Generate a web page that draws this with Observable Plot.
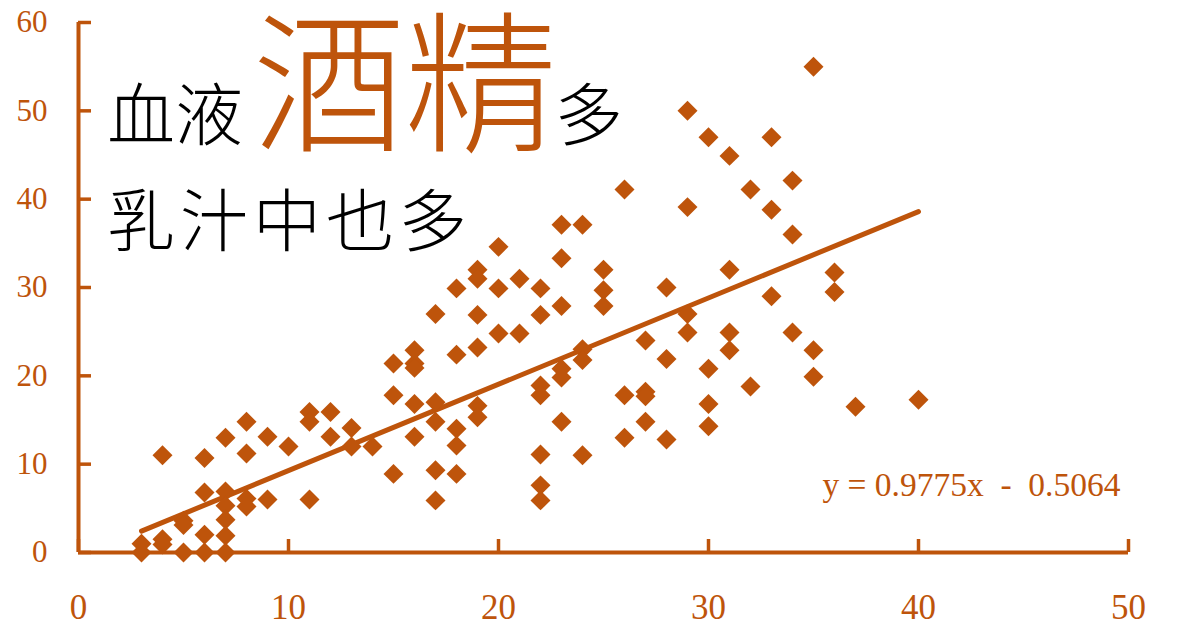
<!DOCTYPE html>
<html>
<head>
<meta charset="utf-8">
<script src="https://cdn.jsdelivr.net/npm/d3@7"></script>
<script src="https://cdn.jsdelivr.net/npm/@observablehq/plot@0.6"></script>
<style>
  html, body { margin: 0; padding: 0; background: #fff; }
  #chart svg { display: block; }
</style>
</head>
<body>
<div id="chart"></div>
<script>
// ---- data (x = blood alcohol, y = milk alcohol) ----
const xVals = [
  3,3,
  4,4,4,
  5,5,5,
  6,6,6,6,
  7,7,7,7,7,7,
  8,8,8,8,
  9,9,
  10,
  11,11,11,
  12,12,
  13,13,
  14,
  15,15,15,
  16,16,16,16,16,
  17,17,17,17,17,
  18,18,18,18,18,
  19,19,19,19,19,19,
  20,20,20,
  21,21,
  22,22,22,22,22,22,22,
  23,23,23,23,23,23,
  24,24,24,24,
  25,25,25,
  26,26,26,
  27,27,27,27,
  28,28,28,
  29,29,29,29,
  30,30,30,30,
  31,31,31,31,
  32,32,
  33,33,33,
  34,34,34,
  35,35,35,
  36,36,
  37,
  40
];
const yVals = [
  1.0,0.0,
  11.0,1.5,0.9,
  3.6,3.1,0.0,
  10.7,6.8,2.0,0.0,
  13.0,6.9,5.3,3.7,1.9,0.0,
  14.8,11.2,6.1,5.2,
  13.1,6.0,
  12.0,
  15.9,14.8,6.0,
  15.9,13.1,
  14.1,12.0,
  12.0,
  21.4,17.8,8.9,
  22.9,21.4,20.9,16.8,13.1,
  27.0,17.0,14.8,9.3,5.9,
  29.9,22.4,14.0,12.1,8.9,
  32.0,31.0,26.9,23.2,16.6,15.3,
  34.6,29.9,24.8,
  31.0,24.8,
  29.9,26.9,18.9,17.8,11.1,7.6,5.9,
  37.1,33.3,27.9,20.8,19.8,14.8,
  37.1,23.0,21.8,11.0,
  32.0,29.7,27.9,
  41.1,17.8,13.0,
  24.0,18.2,17.7,14.8,
  30.0,21.9,12.8,
  50.0,39.1,27.0,24.9,
  47.0,20.8,16.8,14.3,
  44.9,32.0,24.9,22.9,
  41.1,18.8,
  47.0,38.8,29.0,
  42.1,36.0,24.9,
  55.0,22.9,19.9,
  31.7,29.5,
  16.5,
  17.3
];
const xTicks = [0, 10, 20, 30, 40, 50];
const yTicks = [0, 10, 20, 30, 40, 50, 60];
// trend line as labelled in the chart
const trendSlope = 0.9775;
const trendIntercept = -0.5064;
const trendRange = [3, 40];
const trendLabel = "y = 0.9775x  -  0.5064";
const titleLine1 = ["血液", "酒精", "多"];
const titleLine2 = "乳汁中也多";

const ORANGE = "#BE540B";

const points = xVals.map((x, i) => ({x, y: yVals[i]}));
const trend = trendRange.map(x => ({x, y: trendSlope * x + trendIntercept}));

const chart = Plot.plot({
  width: 1200,
  height: 628,
  marginLeft: 78,
  marginRight: 72,
  marginTop: 22,
  marginBottom: 76,
  x: {domain: [0, 50], label: null},
  y: {domain: [0, 60], label: null},
  style: {background: "white", fontFamily: "'Liberation Serif', 'Times New Roman', serif"},
  marks: [
    Plot.ruleX([0], {stroke: ORANGE, strokeWidth: 4}),
    Plot.ruleY([0], {stroke: ORANGE, strokeWidth: 4}),
    Plot.axisX(xTicks, {tickSize: -13, tickPadding: 55, stroke: ORANGE, fill: ORANGE, strokeWidth: 3.5, fontSize: 35, label: null}),
    Plot.axisY(yTicks, {tickSize: -13, tickPadding: 44, stroke: ORANGE, fill: ORANGE, strokeWidth: 3.5, fontSize: 31, label: null}),
    Plot.line(trend, {x: "x", y: "y", stroke: ORANGE, strokeWidth: 5, strokeLinecap: "round"}),
    Plot.dot(points, {x: "x", y: "y", symbol: "diamond2", r: 9, fill: ORANGE, stroke: "none"}),
    Plot.text([trendLabel], {frameAnchor: "bottom-right", dx: -8, dy: -57, text: d => d, fill: ORANGE, fontSize: 33.5, textAnchor: "end", lineAnchor: "bottom", fontFamily: "'Liberation Serif', serif"})
  ]
});

document.getElementById("chart").appendChild(chart);

const svg = d3.select(chart);
const cjk = "'Noto Sans CJK TC', 'Noto Sans CJK SC', sans-serif";
const t1 = svg.append("text")
  .attr("x", 107).attr("y", 140)
  .attr("text-anchor", "start")
  .attr("font-family", cjk).attr("font-weight", 300);
t1.append("tspan").attr("font-size", 68).attr("fill", "#000").text(titleLine1[0]);
t1.append("tspan").attr("font-size", 152).attr("fill", ORANGE).attr("dx", 10).text(titleLine1[1]);
t1.append("tspan").attr("font-size", 68).attr("fill", "#000").attr("dx", -2).text(titleLine1[2]);

svg.append("text")
  .attr("x", 107).attr("y", 246)
  .attr("text-anchor", "start")
  .attr("font-family", cjk).attr("font-weight", 300)
  .attr("font-size", 68).attr("letter-spacing", 5).attr("fill", "#000")
  .text(titleLine2);
</script>
</body>
</html>
